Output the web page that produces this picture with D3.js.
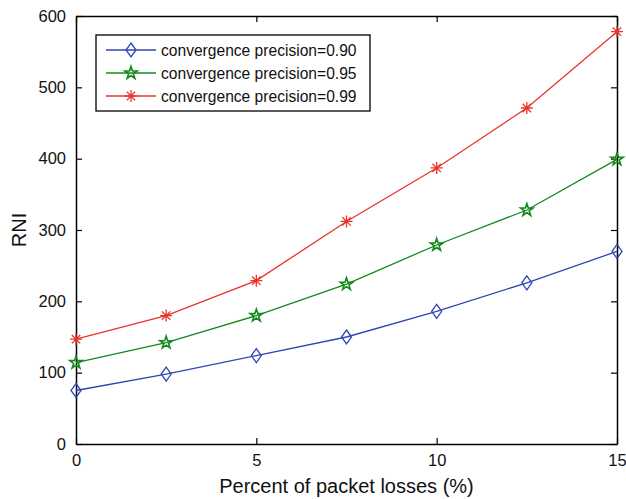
<!DOCTYPE html>
<html>
<head>
<meta charset="utf-8">
<script src="https://cdn.jsdelivr.net/npm/d3@7"></script>
<style>
  body { margin: 0; background: #fff; }
  text { font-family: "Liberation Sans", Arial, sans-serif; fill: #111; }
</style>
</head>
<body>
<script>
// data
const losses = [0, 2.5, 5, 7.5, 10, 12.5, 15];
const rni090 = [75, 98, 124, 150, 186, 226, 270];
const rni095 = [114, 142, 180, 224, 279, 328, 399];
const rni099 = [147, 180, 229, 312, 387, 471, 578];
const seriesNames = ['convergence precision=0.90', 'convergence precision=0.95', 'convergence precision=0.99'];
const xTicks = [0, 5, 10, 15];
const yTicks = [0, 100, 200, 300, 400, 500, 600];

const W = 626, H = 499;
const margin = {top: 16, right: 9, bottom: 55, left: 76};
const width = W - margin.left - margin.right,
    height = H - margin.top - margin.bottom;

const svg = d3.select('body').append('svg')
    .attr('width', W)
    .attr('height', H);
const g = svg.append('g')
    .attr('transform', 'translate(' + margin.left + ',' + margin.top + ')');

const x = d3.scaleLinear().domain([0, 15]).range([0, width]);
const y = d3.scaleLinear().domain([0, 600]).range([height, 0]);

// axes with inward ticks on all four sides
const tk = 6;
g.append('g')
    .attr('transform', 'translate(0,' + height + ')')
    .call(d3.axisBottom(x).tickValues(xTicks).tickSizeInner(-tk).tickSizeOuter(0).tickPadding(10));
g.append('g')
    .call(d3.axisTop(x).tickValues(xTicks).tickSizeInner(-tk).tickSizeOuter(0).tickFormat(''));
g.append('g')
    .call(d3.axisLeft(y).tickValues(yTicks).tickSizeInner(-tk).tickSizeOuter(0).tickPadding(10));
g.append('g')
    .attr('transform', 'translate(' + width + ',0)')
    .call(d3.axisRight(y).tickValues(yTicks).tickSizeInner(-tk).tickSizeOuter(0).tickFormat(''));
g.selectAll('.domain').attr('stroke', '#000').attr('stroke-width', 1.5);
g.selectAll('.tick line').attr('stroke', '#000').attr('stroke-width', 1.2);
g.selectAll('.tick text').style('font-size', '16.5px').attr('fill', '#111');

// axis titles
svg.append('text')
    .attr('x', margin.left + width / 2)
    .attr('y', 493)
    .attr('text-anchor', 'middle')
    .style('font-size', '20px')
    .text('Percent of packet losses (%)');
svg.append('text')
    .attr('transform', 'translate(26,' + (margin.top + height / 2) + ') rotate(-90)')
    .attr('text-anchor', 'middle')
    .style('font-size', '20px')
    .text('RNI');

// marker shapes
function diamond(sel) {
    sel.append('path').attr('d', 'M0,-7L5,0L0,7L-5,0Z')
        .attr('fill', 'none').attr('stroke-width', 1.3);
}
function star(sel) {
    sel.append('path').attr('d', d3.symbol(d3.symbolStar, 48)())
        .attr('fill', 'none').attr('stroke-width', 1.6);
}
function asterisk(sel) {
    sel.append('path').attr('d', 'M0,-6V6M-6,0H6M-4.2,-4.2L4.2,4.2M-4.2,4.2L4.2,-4.2')
        .attr('fill', 'none').attr('stroke-width', 1.3);
}

const series = [
    {name: seriesNames[0], values: rni090, color: '#2f45b5', marker: diamond},
    {name: seriesNames[1], values: rni095, color: '#138a1c', marker: star},
    {name: seriesNames[2], values: rni099, color: '#e8352b', marker: asterisk}
];

const line = d3.line()
    .x((d, i) => x(losses[i]))
    .y(d => y(d));

series.forEach(s => {
    g.append('path')
        .datum(s.values)
        .attr('fill', 'none')
        .attr('stroke', s.color)
        .attr('stroke-width', 1.3)
        .attr('d', line);
    g.selectAll(null)
        .data(s.values)
        .enter().append('g')
        .attr('transform', (d, i) => 'translate(' + x(losses[i]) + ',' + y(d) + ')')
        .attr('stroke', s.color)
        .each(function() { s.marker(d3.select(this)); });
});

// legend
const lg = svg.append('g').attr('transform', 'translate(96,35)');
lg.append('rect')
    .attr('width', 274).attr('height', 76)
    .attr('fill', '#fff').attr('stroke', '#000').attr('stroke-width', 1.3);
series.forEach((s, i) => {
    const row = lg.append('g').attr('transform', 'translate(0,' + (15 + i * 23) + ')');
    row.append('line')
        .attr('x1', 10).attr('x2', 60)
        .attr('stroke', s.color).attr('stroke-width', 1.3);
    const m = row.append('g').attr('transform', 'translate(35,0)').attr('stroke', s.color);
    s.marker(m);
    row.append('text')
        .attr('x', 65).attr('y', 5.5)
        .style('font-size', '15.6px')
        .text(s.name);
});
</script>
</body>
</html>
